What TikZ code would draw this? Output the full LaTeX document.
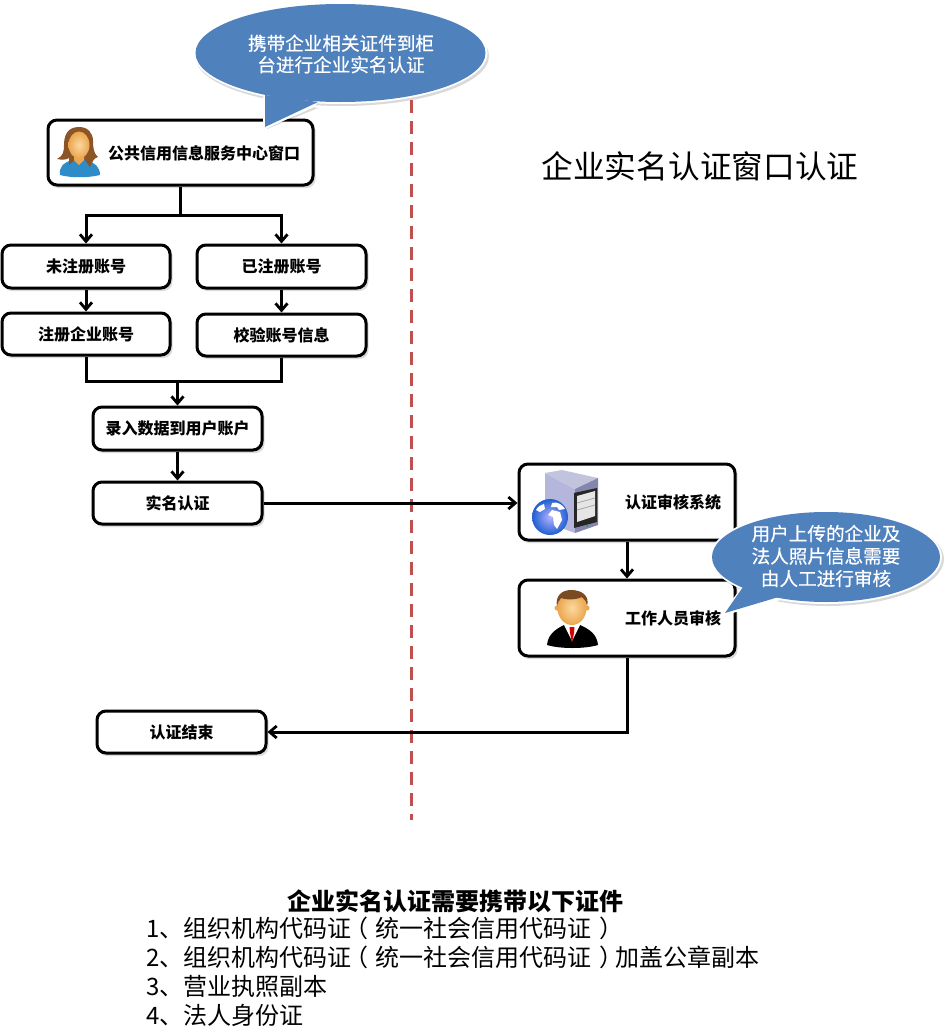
\documentclass[tikz,border=0pt]{standalone}
\usepackage{fontspec}
\setmainfont{Noto Sans CJK SC}
\newfontfamily\bubfont[FakeBold=0.5]{Noto Sans CJK SC}
\usetikzlibrary{arrows.meta,shapes.geometric}
\definecolor{bub}{HTML}{4F81BD}
\definecolor{dashred}{HTML}{C0504D}
\definecolor{hair}{HTML}{8C5526}
\definecolor{skin}{HTML}{FAD9A0}
\definecolor{skind}{HTML}{EBA64F}
\definecolor{shirt}{HTML}{2E8CC8}
\definecolor{mhair}{HTML}{7A4A20}
\definecolor{lav}{HTML}{B4B6DC}
\definecolor{lavd}{HTML}{8486AE}
\definecolor{lavf}{HTML}{A8AAD0}
\definecolor{globe}{HTML}{1F5FD0}
\tikzset{
  x=1pt,y=-1pt,
  flowbox/.style={draw=black,line width=3pt,rounded corners=9pt,fill=white,inner sep=0pt,font=\fontsize{16}{18}\selectfont\bfseries},
  flowlabel/.style={inner sep=0pt,font=\fontsize{16}{18}\selectfont\bfseries},
  flowarrow/.style={line width=3pt,-{Straight Barb[length=7pt,width=12pt,line width=2.8pt]}},
  flowline/.style={line width=3pt},
  bubtext/.style={text=white,inner sep=0pt,align=center},
  listtext/.style={anchor=base west,inner sep=0pt,font=\fontsize{24}{28}\selectfont},
}
\newcommand{\flowshadow}[4]{\fill[black,opacity=.14,rounded corners=9pt] (#1+1,#2+1) rectangle (#3+2.5,#4+3);}
\newcommand{\lp}{\kern-7.5pt（\kern7.5pt}
\newcommand{\rp}{\kern7.5pt）\kern-7.5pt}
\begin{document}
\begin{tikzpicture}
\useasboundingbox (0,0) rectangle (947,1036);
% dashed divider
\coordinate (dv1) at (411,100);
\coordinate (dv2) at (411,820);
\draw[dashred,line width=3pt,dash pattern=on 13pt off 8pt] (dv1) -- (dv2);
% box shadows
\flowshadow{48}{120}{313}{185}
\flowshadow{2}{245}{170}{288}
\flowshadow{197}{245}{366}{288}
\flowshadow{2}{313}{170}{355}
\flowshadow{197}{314}{366}{356}
\flowshadow{93}{407}{262}{450}
\flowshadow{93}{482}{262}{524}
\flowshadow{519}{464}{735}{540}
\flowshadow{519}{580}{735}{656}
\flowshadow{97}{711}{266}{753}
% boxes
\node[flowbox,minimum width=265pt,minimum height=65pt] (top) at (180.5,152.5) {};
\node[flowbox,minimum width=168pt,minimum height=43pt] (a1) at (86,266.5) {未注册账号};
\node[flowbox,minimum width=169pt,minimum height=43pt] (b1) at (281.5,266.5) {已注册账号};
\node[flowbox,minimum width=168pt,minimum height=42pt] (a2) at (86,334) {注册企业账号};
\node[flowbox,minimum width=169pt,minimum height=42pt] (b2) at (281.5,335) {校验账号信息};
\node[flowbox,minimum width=169pt,minimum height=43pt] (rec) at (177.5,428.5) {录入数据到用户账户};
\node[flowbox,minimum width=169pt,minimum height=42pt] (real) at (177.5,503) {实名认证};
\node[flowbox,minimum width=216pt,minimum height=76pt] (sys) at (627,502) {};
\node[flowbox,minimum width=216pt,minimum height=76pt] (staff) at (627,618) {};
\node[flowbox,minimum width=169pt,minimum height=42pt] (done) at (181.5,732) {认证结束};
\node[flowlabel] (toplab) at (204,153) {公共信用信息服务中心窗口};
\node[flowlabel] (syslab) at (673,502) {认证审核系统};
\node[flowlabel] (stafflab) at (673,618) {工作人员审核};
% connectors
\coordinate (j1) at (top.south |- 0,215);
\coordinate (j2) at (rec.north |- 0,381);
\draw[flowline] (top.south) -- (j1);
\draw[flowarrow] (j1) -| (a1.north);
\draw[flowarrow] (j1) -| (b1.north);
\draw[flowarrow] (a1.south) -- (a2.north);
\draw[flowarrow] (b1.south) -- (b2.north);
\draw[flowline] (a2.south) |- (j2);
\draw[flowline] (b2.south) |- (j2);
\draw[flowarrow] (j2) -- (rec.north);
\draw[flowarrow] (rec.south) -- (real.north);
\draw[flowarrow] (real.east) -- (real.east -| sys.west);
\draw[flowarrow] (sys.south) -- (staff.north);
\draw[flowarrow] (staff.south) |- (done.east);
% woman icon
\fill[shirt] (60,175) .. controls (59,167) and (63,163) .. (72,160) -- (87,160) .. controls (95,163) and (100,167) .. (100,175) .. controls (88,178) and (71,178) .. (60,175) -- cycle;
\fill[hair] (79,127) .. controls (67,127) and (64,136) .. (64,145) .. controls (64,152) and (63,156) .. (57,159) .. controls (62,160) and (66,160) .. (69,158) -- (69,165) -- (74,160) -- (85,160) -- (90,167) .. controls (92,162) and (94,158) .. (98,157) .. controls (94,154) and (93,148) .. (93,141) .. controls (93,133) and (88,127) .. (79,127) -- cycle;
\fill[skind] (74,152) -- (84,152) -- (84,160) -- (79,165) -- (74,160) -- cycle;
\shade[inner color=skin,outer color=skind] (79,145) ellipse [x radius=10.5,y radius=13.5];
% server icon
\fill[lav] (545,473) -- (575,489) -- (575,533) -- (545,522) -- cycle;
\fill[lavf!70!white] (545,473) -- (562,470) -- (598,478) -- (575,489) -- cycle;
\fill[lavd] (575,489) -- (598,478) -- (598,525) -- (575,533) -- cycle;
\fill[black!85] (574,493) -- (597,488) -- (597,522) -- (574,528) -- cycle;
\fill[white!90!black] (577,496) -- (595,491) -- (595,516) -- (577,522) -- cycle;
\draw[black!35,line width=.8pt] (577,503) -- (595,498) (577,510) -- (595,505);
\fill[green!70!black] (587,526) circle [radius=1];
\shade[inner color=blue!30!white,outer color=globe] (550,517) circle [radius=18];
\fill[white] (552,503) .. controls (557,501) and (563,505) .. (565,509) -- (559,510) -- (557,507) -- (551,507) -- cycle;
\fill[white] (552,510) -- (560,512) -- (562,520) -- (557,529) -- (554,525) -- (553,517) -- (548,515) -- cycle;
\fill[white] (536,510) .. controls (538,506) and (541,505) .. (544,504) -- (545,509) -- (540,512) -- cycle;
% man icon
\fill[black] (547,645) .. controls (548,634) and (556,629) .. (564,625) -- (580,625) .. controls (589,629) and (597,634) .. (598,645) .. controls (585,649) and (560,649) .. (547,645) -- cycle;
\fill[white] (564,625) -- (580,625) -- (572,641) -- cycle;
\fill[red!85!black] (569.5,627) -- (574.5,627) -- (574,633) -- (572,643) -- (570,633) -- cycle;
\fill[skind] (557,608) circle [radius=2.5] (587,608) circle [radius=2.5];
\shade[inner color=skin,outer color=skind] (572,608) ellipse [x radius=14.5,y radius=17];
\fill[mhair] (557,606) .. controls (555,596) and (562,590) .. (571,590) .. controls (582,590) and (590,596) .. (587,606) .. controls (586,602) and (585,599) .. (582,597) .. controls (576,600) and (566,600) .. (561,598) .. controls (559,600) and (558,603) .. (557,606) -- cycle;
% speech bubble 1
\node[ellipse,minimum width=290pt,minimum height=98pt,inner sep=0pt] (b1e) at (340.5,53) {};
\coordinate (b1t) at (265,127);
\fill[black,opacity=.15] (342,56) ellipse [x radius=147,y radius=50];
\fill[black,opacity=.15] (267,100) -- (267,129) -- (318,108) -- cycle;
\draw[white,line width=4pt,line join=miter] (265,97) -- (b1t) -- (316,104);
\fill[white] (b1e.center) ellipse [x radius=147,y radius=51];
\fill[bub] (b1t) -- (265,95) -- (318,102) -- cycle;
\fill[bub] (b1e.center) ellipse [x radius=145,y radius=49];
\node[bubtext,font=\fontsize{18.6}{21.5}\selectfont\bubfont] (b1lab) at (341,54) {携带企业相关证件到柜\\台进行企业实名认证};
% speech bubble 2
\node[ellipse,minimum width=228pt,minimum height=90pt,inner sep=0pt] (b2e) at (826,557) {};
\coordinate (b2t) at (725,613);
\fill[black,opacity=.15] (828,559) ellipse [x radius=116,y radius=47];
\draw[white,line width=4pt,line join=miter] (745,586) -- (b2t) -- (780,598);
\fill[white] (b2e.center) ellipse [x radius=116,y radius=47];
\fill[bub] (b2t) -- (745,584) -- (782,596) -- cycle;
\fill[bub] (b2e.center) ellipse [x radius=114,y radius=45];
\node[bubtext,font=\fontsize{18.6}{22.5}\selectfont\bubfont] (b2lab) at (826,556) {用户上传的企业及\\法人照片信息需要\\由人工进行审核};
% title
\node[inner sep=0pt,font=\fontsize{31.7}{36}\selectfont] (title) at (700,166) {企业实名认证窗口认证};
% bottom list
\node[inner sep=0pt,font=\fontsize{24}{28}\selectfont\bfseries] (head) at (455,901) {企业实名认证需要携带以下证件};
\node[listtext] (l1) at (146,937) {1、组织机构代码证\lp 统一社会信用代码证\rp};
\node[listtext] (l2) at (146,966) {2、组织机构代码证\lp 统一社会信用代码证\rp 加盖公章副本};
\node[listtext] (l3) at (146,995) {3、营业执照副本};
\node[listtext] (l4) at (146,1024) {4、法人身份证};
\end{tikzpicture}
\end{document}
